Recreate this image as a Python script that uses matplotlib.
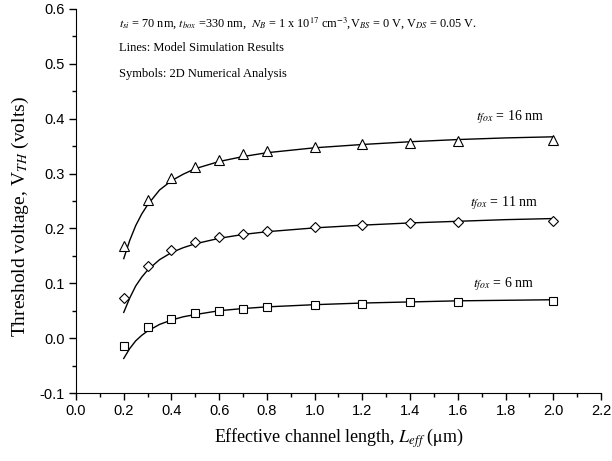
import numpy as np
import matplotlib
matplotlib.use('Agg')
import matplotlib.pyplot as plt

plt.rcParams['mathtext.fontset'] = 'stix'
plt.rcParams['font.family'] = 'Liberation Serif'

# symbols: 2D numerical analysis
L_sym = [0.2, 0.3, 0.4, 0.5, 0.6, 0.7, 0.8, 1.0, 1.2, 1.4, 1.6, 2.0]
vth_16 = [0.168, 0.252, 0.292, 0.312, 0.325, 0.335, 0.341, 0.349, 0.354, 0.356, 0.359, 0.362]
vth_11 = [0.073, 0.131, 0.161, 0.175, 0.185, 0.190, 0.196, 0.202, 0.207, 0.209, 0.211, 0.213]
vth_6 = [-0.015, 0.020, 0.035, 0.045, 0.050, 0.054, 0.057, 0.061, 0.063, 0.065, 0.066, 0.068]

# lines: model simulation results
L_mod = [0.2, 0.225, 0.25, 0.275, 0.3, 0.35, 0.4, 0.45, 0.5, 0.6, 0.7, 0.8, 1.0, 1.2, 1.4, 1.6, 1.8, 2.0]
mod_16 = [0.145, 0.178, 0.205, 0.226, 0.243, 0.270, 0.287, 0.299, 0.309, 0.322, 0.331, 0.338, 0.347, 0.353, 0.358, 0.362, 0.365, 0.367]
mod_11 = [0.047, 0.073, 0.095, 0.111, 0.124, 0.143, 0.156, 0.165, 0.172, 0.182, 0.189, 0.194, 0.201, 0.206, 0.210, 0.213, 0.216, 0.218]
mod_6 = [-0.037, -0.019, -0.005, 0.005, 0.013, 0.025, 0.033, 0.039, 0.043, 0.050, 0.054, 0.057, 0.061, 0.064, 0.066, 0.068, 0.069, 0.070]

fig = plt.figure(figsize=(6.12, 4.61), dpi=100)
ax = fig.add_axes([0.1242, 0.1475, 0.8578, 0.833])

for y in (mod_16, mod_11, mod_6):
    ax.plot(L_mod, y, color='black', lw=1.0)
ax.plot(L_sym, vth_16, ls='none', marker='^', ms=7, mfc='white', mec='black', mew=0.8)
ax.plot(L_sym, vth_11, ls='none', marker='D', ms=5.5, mfc='white', mec='black', mew=0.8)
ax.plot(L_sym, vth_6, ls='none', marker='s', ms=5.2, mfc='white', mec='black', mew=0.8)

ax.set_xlim(0, 2.2)
ax.set_ylim(-0.1, 0.6)
ax.set_xticks(np.arange(0, 2.21, 0.2))
ax.set_xticks(np.arange(0, 2.21, 0.1), minor=True)
ax.set_yticks(np.arange(-0.1, 0.61, 0.1))
ax.set_yticks(np.arange(-0.1, 0.61, 0.05), minor=True)
ax.set_xticklabels(['%.1f' % v for v in np.arange(0, 2.21, 0.2)], family='Liberation Sans', fontsize=10.5)
ax.set_yticklabels(['%.1f' % v for v in np.arange(-0.1, 0.61, 0.1)], family='Liberation Sans', fontsize=10.5)
ax.tick_params(which='major', direction='out', length=5, width=1, pad=3)
ax.tick_params(which='minor', direction='out', length=3, width=1)
ax.spines['top'].set_visible(False)
ax.spines['right'].set_visible(False)

ax.set_xlabel(r'Effective channel length, $L_{eff}$ ($\mathrm{\mu}$m)', fontsize=13, labelpad=6)
ax.set_ylabel(r'Threshold voltage, V$_{\mathit{TH}}$ (volts)', fontsize=14)
ax.yaxis.set_label_coords(-0.086, 0.46)

ax.text(0.18, 0.575, r'$t_{si}$ = 70 nm, $t_{box}$ =330 nm,  $N_B$ = 1 x 10$^{17}$ cm$^{-3}$,V$_{BS}$ = 0 V, V$_{DS}$ = 0.05 V.',
        fontsize=8.8, va='center')
ax.text(0.18, 0.528, 'Lines: Model Simulation Results', fontsize=9, va='center')
ax.text(0.18, 0.481, 'Symbols: 2D Numerical Analysis', fontsize=9, va='center')

ax.text(1.676, 0.402, r'$t_{fox}$ = 16 nm', fontsize=10, va='center')
ax.text(1.651, 0.246, r'$t_{fox}$ = 11 nm', fontsize=10, va='center')
ax.text(1.664, 0.099, r'$t_{fox}$ = 6 nm', fontsize=10, va='center')

fig.savefig('out.png', dpi=100)
